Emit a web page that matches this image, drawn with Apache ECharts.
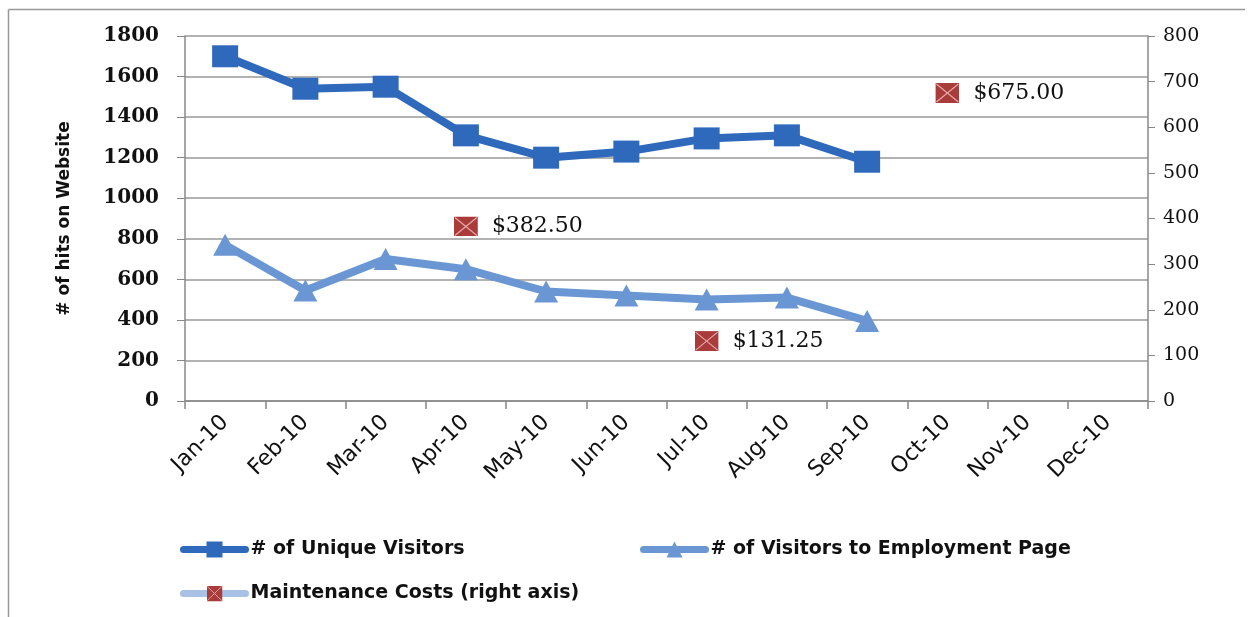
<!DOCTYPE html>
<html>
<head>
<meta charset="utf-8">
<script src="https://cdn.jsdelivr.net/npm/echarts@6/dist/echarts.min.js"></script>
<style>html,body{margin:0;padding:0;background:#fff;}#c{width:1250px;height:617px;}</style>
</head>
<body>
<div id="c"></div>
<script>
const months = ['Jan-10','Feb-10','Mar-10','Apr-10','May-10','Jun-10','Jul-10','Aug-10','Sep-10','Oct-10','Nov-10','Dec-10'];
const uniqueVisitors = [1700, 1540, 1550, 1310, 1200, 1230, 1295, 1310, 1180, null, null, null];
const employmentVisitors = [770, 545, 700, 650, 540, 520, 500, 510, 395, null, null, null];
const maintenanceCosts = [null, null, null, 382.5, null, null, 131.25, null, null, 675, null, null];
const leftTicks = {min: 0, max: 1800, interval: 200};
const rightTicks = {min: 0, max: 800, interval: 100};
const seriesNames = ['# of Unique Visitors', '# of Visitors to Employment Page', 'Maintenance Costs (right axis)'];

const xSvg = '<svg xmlns="http://www.w3.org/2000/svg" width="24" height="20" viewBox="0 0 24 20">' +
  '<rect x="0" y="0" width="24" height="20" fill="#A93B3B"/>' +
  '<line x1="1" y1="1" x2="23" y2="19" stroke="#E8A8A8" stroke-width="1.2"/>' +
  '<line x1="23" y1="1" x2="1" y2="19" stroke="#E8A8A8" stroke-width="1.2"/></svg>';
const xSymbol = 'image://data:image/svg+xml;charset=utf-8,' + encodeURIComponent(xSvg);

const chart = echarts.init(document.getElementById('c'));
const legendText = {fontFamily: 'DejaVu Sans', fontWeight: 'bold', fontSize: 19, color: '#111'};
const legendCommon = {itemWidth: 62, itemHeight: 20, itemGap: 4, textStyle: legendText, lineStyle: {width: 7, cap: 'round'}};
chart.setOption({
  animation: false,
  backgroundColor: '#fff',
  graphic: [
    {type: 'line', shape: {x1: 8.5, y1: 9.5, x2: 1245, y2: 9.5}, style: {stroke: '#999', lineWidth: 1.5}},
    {type: 'line', shape: {x1: 8.5, y1: 9.5, x2: 8.5, y2: 617}, style: {stroke: '#999', lineWidth: 1.5}}
  ],
  grid: {left: 185, right: 102, top: 36, bottom: 216},
  legend: [
    Object.assign({data: [seriesNames[0]], left: 175, top: 535}, legendCommon),
    Object.assign({data: [seriesNames[1]], left: 635, top: 535}, legendCommon),
    Object.assign({data: [seriesNames[2]], left: 175, top: 579}, legendCommon)
  ],
  xAxis: {
    type: 'category', data: months, boundaryGap: true,
    axisLine: {lineStyle: {color: '#888', width: 1.5}},
    axisTick: {show: true, length: 8, lineStyle: {color: '#888', width: 1.5}},
    axisLabel: {rotate: 45, fontFamily: 'DejaVu Sans', fontSize: 22, color: '#111', margin: 18}
  },
  yAxis: [
    {
      type: 'value', min: leftTicks.min, max: leftTicks.max, interval: leftTicks.interval,
      name: '# of hits on Website', nameLocation: 'middle', nameGap: 112,
      nameTextStyle: {fontFamily: 'DejaVu Sans', fontWeight: 'bold', fontSize: 17, color: '#111'},
      axisLine: {show: true, lineStyle: {color: '#888', width: 1.5}},
      axisTick: {show: true, length: 8, lineStyle: {color: '#888'}},
      axisLabel: {margin: 26, fontFamily: 'DejaVu Serif', fontWeight: 'bold', fontSize: 20, color: '#111', formatter: v => String(v)},
      splitLine: {lineStyle: {color: '#999', width: 1.5}}
    },
    {
      type: 'value', min: rightTicks.min, max: rightTicks.max, interval: rightTicks.interval, position: 'right',
      axisLine: {show: true, lineStyle: {color: '#888', width: 1.5}},
      axisTick: {show: true, length: 7, lineStyle: {color: '#888'}},
      axisLabel: {margin: 15, fontFamily: 'DejaVu Serif', fontSize: 19, color: '#111'},
      splitLine: {show: false}
    }
  ],
  series: [
    {
      name: seriesNames[0], type: 'line', data: uniqueVisitors, yAxisIndex: 0,
      symbol: 'rect', symbolSize: [26, 22],
      lineStyle: {color: '#2F69BC', width: 8},
      itemStyle: {color: '#2F69BC'}
    },
    {
      name: seriesNames[1], type: 'line', data: employmentVisitors, yAxisIndex: 0,
      symbol: 'triangle', symbolSize: [24, 22],
      lineStyle: {color: '#6A97D4', width: 8},
      itemStyle: {color: '#6A97D4'}
    },
    {
      name: seriesNames[2], type: 'line', data: maintenanceCosts, yAxisIndex: 1,
      symbol: xSymbol, symbolSize: [24, 20], showSymbol: true, connectNulls: false,
      lineStyle: {color: '#A9C1E4', width: 8},
      itemStyle: {color: '#A93B3B'},
      label: {show: true, position: 'right', distance: 14,
        fontFamily: 'DejaVu Serif', fontSize: 22, color: '#111',
        formatter: p => '$' + Number(p.value).toFixed(2)}
    }
  ]
});
</script>
</body>
</html>
